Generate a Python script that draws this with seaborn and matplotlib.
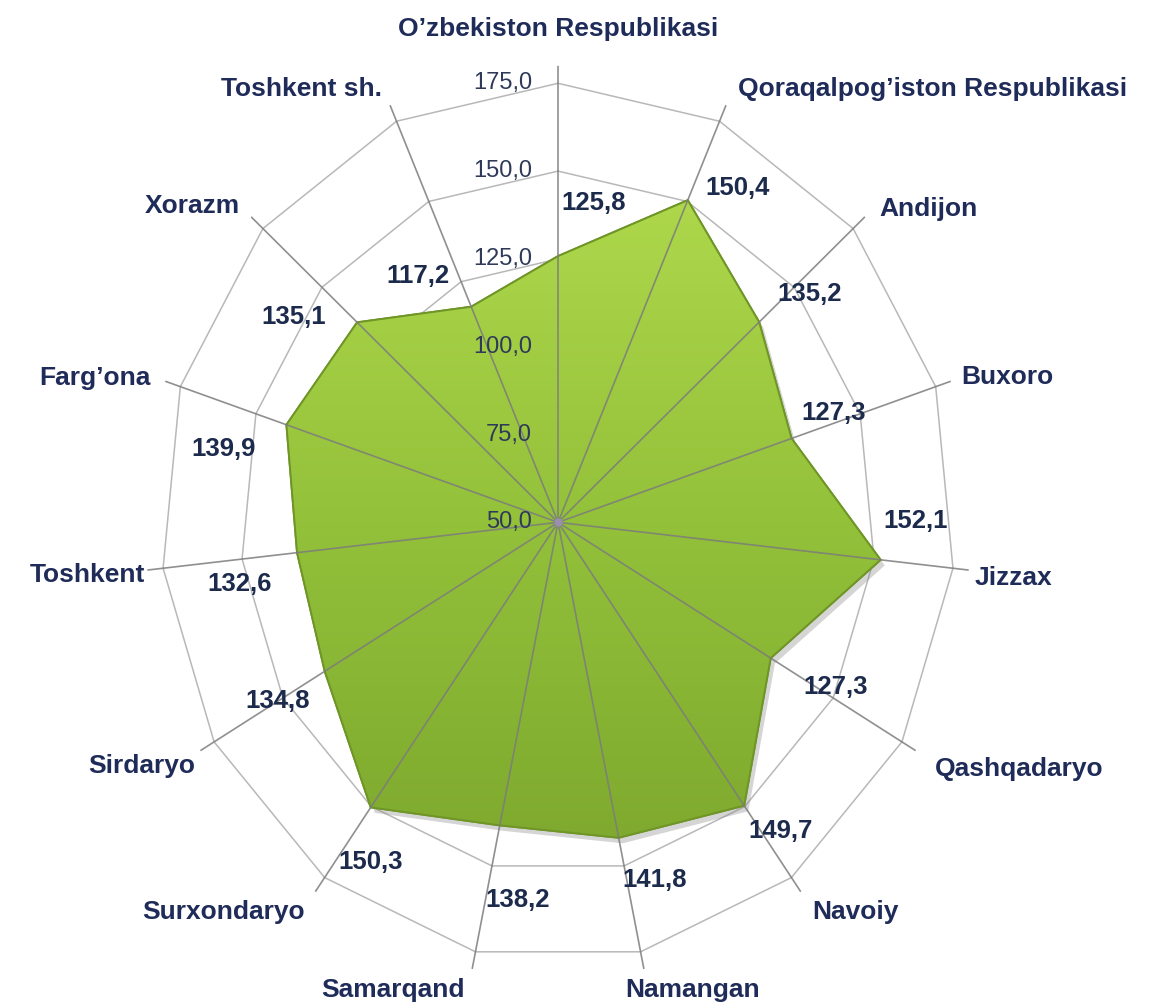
import matplotlib

matplotlib.use("Agg")
import matplotlib.patheffects as pe
import matplotlib.pyplot as plt
import numpy as np
import seaborn as sns
from matplotlib.colors import LinearSegmentedColormap
from matplotlib.image import AxesImage

# Data
regions = [
    "O’zbekiston Respublikasi",
    "Qoraqalpog’iston Respublikasi",
    "Andijon",
    "Buxoro",
    "Jizzax",
    "Qashqadaryo",
    "Navoiy",
    "Namangan",
    "Samarqand",
    "Surxondaryo",
    "Sirdaryo",
    "Toshkent",
    "Farg’ona",
    "Xorazm",
    "Toshkent sh.",
]
values = [125.8, 150.4, 135.2, 127.3, 152.1, 127.3, 149.7, 141.8,
          138.2, 150.3, 134.8, 132.6, 139.9, 135.1, 117.2]
r_ticks = [50, 75, 100, 125, 150, 175]

# Label placement (pixel offsets, image y grows downward)
value_offsets = [(36, -53), (50, -12), (50, -28), (42, -25), (35, -39),
                 (65, 29), (36, 25), (36, 42), (18, 75), (0, 55),
                 (-47, 30), (-57, 31), (-63, 24), (-63, -5), (-53, -31)]
name_offsets = [(0, -37), (12, -16), (14, -8), (10, -4), (6, 8),
                (19, 18), (11, 20), (-19, 21), (-7, 21), (-10, 20),
                (-5, 15), (-2, 5), (-15, -3), (-11, -11), (-8, -16)]

NAVY = "#1f2b58"
NUM = "#1c2a4c"
TICK = "#2e3a58"

sns.set_theme(style="white")
plt.rcParams["font.family"] = ["Liberation Sans", "DejaVu Sans"]

fig = plt.figure(figsize=(11.52, 10.08), dpi=100)
fig.patch.set_facecolor("white")
ax = fig.add_axes([0.1259, 0.0288, 0.717, 0.906], projection="polar")
ax.set_aspect("auto")
ax.set_theta_zero_location("N")
ax.set_theta_direction(-1)

n = len(regions)
angles = np.linspace(0, 2 * np.pi, n, endpoint=False)
closed = np.append(angles, angles[0])
vals_closed = np.append(values, values[0])

# polygon gridlines
for v in r_ticks[1:]:
    ax.plot(closed, [v] * (n + 1), color="#b8b8b8", lw=1.1, zorder=1)

# filled area with vertical gradient
poly = ax.fill(closed, vals_closed, facecolor="none", edgecolor="#6f9527",
               lw=1.4, zorder=2)[0]
poly.set_path_effects([pe.SimplePatchShadow(offset=(3, -4), shadow_rgbFace="#888888", alpha=0.35),
                       pe.Normal()])
cmap = LinearSegmentedColormap.from_list("grn", ["#76a02a", "#93c13a", "#b9e052"])
grad = np.linspace(0, 1, 256).reshape(-1, 1)
im = AxesImage(ax, cmap=cmap, extent=(0, 1, 0, 1), origin="lower",
               transform=ax.transAxes, interpolation="bilinear")
im.set_data(grad)
im.set_zorder(2.5)
ax.add_image(im)
im.set_clip_path(poly)
ax.fill(closed, vals_closed, facecolor="none", edgecolor="#6f9527", lw=1.4, zorder=2.6)

# spokes
for a in angles:
    ax.plot([a, a], [50, 180], color="#7c7c7c", lw=1.2, alpha=0.85, zorder=3)
ax.plot(0, 50, "o", ms=5, color="#9b8fb0", zorder=4)

ax.set_ylim(50, 180)
ax.set_xticks([])
ax.set_yticks([])
ax.grid(False)
ax.spines["polar"].set_visible(False)
ax.set_facecolor("none")

# radial tick labels
for v in r_ticks:
    ax.annotate(f"{v:.1f}".replace(".", ","), xy=(0, v), xytext=(-26, 0),
                textcoords="offset pixels", ha="right", va="center",
                fontsize=17, color=TICK, zorder=5)

# value labels
for a, v, (dx, dy) in zip(angles, values, value_offsets):
    ax.annotate(f"{v:.1f}".replace(".", ","), xy=(a, v), xytext=(dx, -dy),
                textcoords="offset pixels", ha="center", va="center",
                fontsize=18.5, fontweight="bold", color=NUM, zorder=5)

# category labels
for a, name, (dx, dy) in zip(angles, regions, name_offsets):
    s = np.sin(a)
    ha = "left" if s > 0.15 else ("right" if s < -0.15 else "center")
    ax.annotate(name, xy=(a, 180), xytext=(dx, -dy), textcoords="offset pixels",
                ha=ha, va="center", fontsize=19, fontweight="bold",
                color=NAVY, zorder=5, annotation_clip=False)

fig.savefig("out.png", dpi=100, facecolor="white")
